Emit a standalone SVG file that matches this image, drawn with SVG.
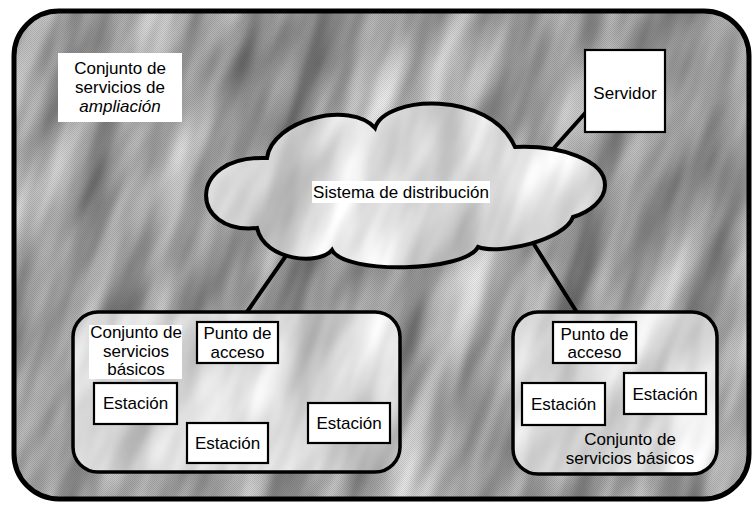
<svg xmlns="http://www.w3.org/2000/svg" width="753" height="506" viewBox="0 0 753 506">
<style>
text{font-family:"Liberation Sans",Arial,sans-serif;font-size:17px;fill:#000;text-anchor:middle}
.box{fill:#fff;stroke:#000;stroke-width:2.2}
.lbl{fill:#fff;stroke:none}
.bss{fill:none;stroke:#000;stroke-width:3.5}
.conn{stroke:#000;stroke-width:4;fill:none;stroke-linecap:round}
</style>
<defs>
<filter id="nOuter" x="0" y="0" width="1" height="1" color-interpolation-filters="sRGB">
<feTurbulence type="fractalNoise" baseFrequency="0.022 0.005" numOctaves="3" seed="7"/>
<feColorMatrix type="matrix" values="0.8 0 0 0 0.24  0.8 0 0 0 0.24  0.8 0 0 0 0.24  0 0 0 0 1"/>
</filter>
<filter id="nInner" x="0" y="0" width="1" height="1" color-interpolation-filters="sRGB">
<feTurbulence type="fractalNoise" baseFrequency="0.022 0.006" numOctaves="3" seed="11"/>
<feColorMatrix type="matrix" values="0.5 0 0 0 0.6  0.5 0 0 0 0.6  0.5 0 0 0 0.6  0 0 0 0 1"/>
</filter>
<pattern id="dither" width="2" height="2" patternUnits="userSpaceOnUse">
<rect x="0" y="0" width="1" height="1" fill="#000"/>
<rect x="1" y="1" width="1" height="1" fill="#000"/>
</pattern>
<clipPath id="cOuter"><rect x="14" y="11" width="735" height="488" rx="45"/></clipPath>
<clipPath id="cL"><rect x="73" y="312" width="327" height="160" rx="25"/></clipPath>
<clipPath id="cR"><rect x="513" y="312" width="204" height="162" rx="25"/></clipPath>
<path id="cloudShape" d="M267,158 C272,120 350,100 375,128 C385,95 490,90 515,147 C560,145 605,160 605,185 C605,200 590,212 573,217 C565,240 500,255 478,247 C465,272 345,275 332,250 C320,265 265,262 257,228 C190,235 185,155 267,158 Z"/>
<clipPath id="cCloud"><use href="#cloudShape"/></clipPath>
</defs>

<g id="background">
<rect width="753" height="506" fill="#fff"/>
<g clip-path="url(#cOuter)">
<rect x="-250" y="-250" width="1250" height="1000" fill="#999" filter="url(#nOuter)" transform="rotate(20 376 253)"/>
<rect x="0" y="0" width="753" height="506" fill="url(#dither)" opacity="0.1"/>
</g>
<rect x="14" y="11" width="735" height="488" rx="45" fill="none" stroke="#000" stroke-width="5"/>
</g>

<g id="ess-label">
<rect class="lbl" x="58" y="53" width="124" height="69"/>
<text x="120" y="74">Conjunto de</text>
<text x="120" y="93">servicios de</text>
<text x="120" y="112" font-style="italic">ampliación</text>
</g>

<g id="connectors">
<line class="conn" x1="545" y1="158" x2="587" y2="111"/>
<line class="conn" x1="290" y1="250" x2="240" y2="322"/>
<line class="conn" x1="530" y1="238" x2="583" y2="322"/>
</g>

<g id="servidor">
<rect class="box" x="585" y="50" width="80" height="82"/>
<text x="625" y="99">Servidor</text>
</g>

<g id="sistema-distribucion">
<g clip-path="url(#cCloud)">
<rect x="-200" y="-200" width="1200" height="900" fill="#ccc" filter="url(#nInner)" transform="rotate(20 400 190)"/>
</g>
<use href="#cloudShape" fill="none" stroke="#000" stroke-width="4"/>
<rect class="lbl" x="312" y="181" width="178" height="22"/>
<text x="401" y="198">Sistema de distribución</text>
</g>

<g id="bss-izquierdo">
<g clip-path="url(#cL)">
<rect x="-200" y="-200" width="1200" height="900" fill="#ccc" filter="url(#nInner)" transform="rotate(20 236 392)"/>
</g>
<rect class="bss" x="73" y="312" width="327" height="160" rx="25"/>
<rect class="lbl" x="89" y="325" width="93" height="54"/>
<text x="136" y="338">Conjunto de</text>
<text x="136" y="357">servicios</text>
<text x="136" y="375">básicos</text>
</g>

<g id="punto-acceso-izq">
<rect class="box" x="197" y="322" width="81" height="41"/>
<text x="237.5" y="339">Punto de</text>
<text x="237.5" y="358">acceso</text>
</g>

<g id="estacion-izq-1">
<rect class="box" x="94" y="383" width="83" height="41"/>
<text x="135.5" y="409">Estación</text>
</g>

<g id="estacion-izq-2">
<rect class="box" x="187" y="423" width="81" height="40"/>
<text x="227.5" y="449">Estación</text>
</g>

<g id="estacion-izq-3">
<rect class="box" x="308" y="403" width="82" height="40"/>
<text x="349" y="429">Estación</text>
</g>

<g id="bss-derecho">
<g clip-path="url(#cR)">
<rect x="-200" y="-200" width="1200" height="900" fill="#ccc" filter="url(#nInner)" transform="rotate(20 615 393)"/>
</g>
<rect class="bss" x="513" y="312" width="204" height="162" rx="25"/>
<text x="630" y="445">Conjunto de</text>
<text x="630" y="464">servicios básicos</text>
</g>

<g id="punto-acceso-der">
<rect class="box" x="553" y="322" width="83" height="41"/>
<text x="594.5" y="340">Punto de</text>
<text x="594.5" y="358">acceso</text>
</g>

<g id="estacion-der-1">
<rect class="box" x="522" y="383" width="83" height="42"/>
<text x="563.5" y="410">Estación</text>
</g>

<g id="estacion-der-2">
<rect class="box" x="624" y="373" width="82" height="41"/>
<text x="665" y="400">Estación</text>
</g>
</svg>
